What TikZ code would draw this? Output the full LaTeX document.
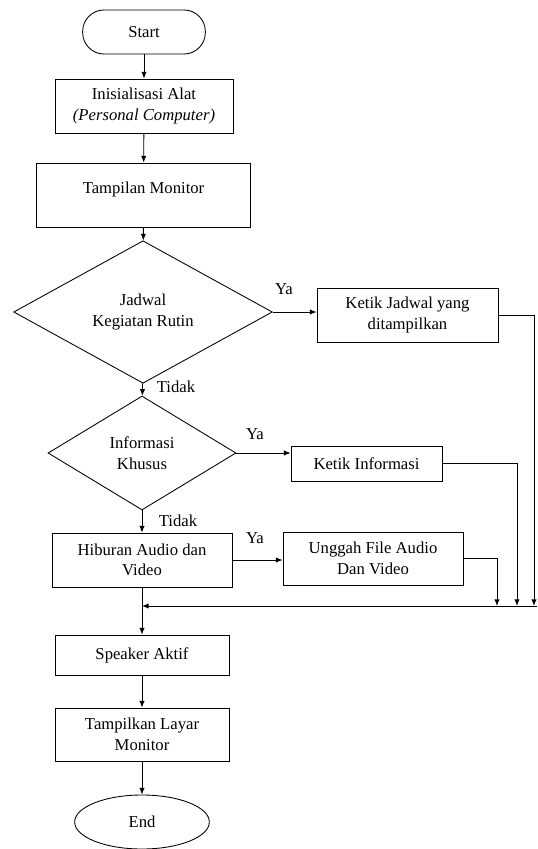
\documentclass[tikz,border=0pt]{standalone}
\usepackage{fontspec}
\setmainfont{Liberation Serif}
\usetikzlibrary{shapes.geometric,arrows.meta}

\begin{document}
\begin{tikzpicture}[x=0.75pt,y=-0.75pt,
  font=\fontsize{12.5}{15.5}\selectfont,
  line width=0.65pt,
  box/.style={draw,rectangle,align=center,inner sep=2pt},
  term/.style={draw,rounded corners=16pt,align=center},
  choice/.style={draw,diamond,align=center,inner sep=1pt},
  flow/.style={-{Latex[length=5pt,width=4pt]}}]

\useasboundingbox (0,0) rectangle (537,849); % Page size

% Main column
\node[term,minimum width=92pt,minimum height=33pt] (start) at (144,32) {Start};
\node[box,minimum width=133.5pt,minimum height=40.5pt] (init) at (144,106) {Inisialisasi Alat\\\textit{(Personal Computer)}};
\node[box,minimum width=160pt,minimum height=48pt,text depth=11pt] (monitor) at (143.5,195) {Tampilan Monitor};
\node[choice,minimum width=194pt,minimum height=85pt] (rutin) at (143,312) {Jadwal\\Kegiatan Rutin};
\node[choice,minimum width=141pt,minimum height=85.5pt] (khusus) at (142,453) {Informasi\\Khusus};
\node[box,minimum width=135pt,minimum height=40.5pt] (hiburan) at (142,560) {Hiburan Audio dan\\Video};
\node[box,minimum width=130.5pt,minimum height=30pt] (speaker) at (142,655) {Speaker Aktif};
\node[box,minimum width=130.5pt,minimum height=39.75pt] (layar) at (142,734.5) {Tampilkan Layar\\Monitor};
\node[draw,ellipse,minimum width=101pt,minimum height=40.5pt,inner sep=0pt] (end) at (142,822) {End};

% Right column
\node[box,minimum width=135.75pt,minimum height=40.5pt] (ketikjadwal) at (407.5,315) {Ketik Jadwal yang\\ditampilkan};
\node[box,minimum width=113.25pt,minimum height=26.25pt] (ketikinfo) at (366.5,463.5) {Ketik Informasi};
\node[box,minimum width=135pt,minimum height=39.75pt] (unggah) at (373,558.5) {Unggah File Audio\\Dan Video};

% Branch labels
\node (ya1) at (284,289) {Ya};
\node (ya2) at (255,434) {Ya};
\node (ya3) at (255,538) {Ya};
\node (tidak1) at (176,387) {Tidak};
\node (tidak2) at (178,521) {Tidak};

% Join points
\coordinate (joinR) at (536.5,606);
\coordinate (joinL) at (142,606);
\coordinate (dropA) at (534,606);
\coordinate (dropB) at (517,606);
\coordinate (dropC) at (497,606);

% Connectors
\draw[flow] (start) -- (init);
\draw[flow] (init) -- (monitor);
\draw[flow] (monitor) -- (rutin);
\draw[flow] (rutin) -- (khusus);
\draw[flow] (khusus) -- (hiburan);
\draw[flow] (rutin.east) -- (rutin.east -| ketikjadwal.west);
\draw[flow] (khusus.east) -- (khusus.east -| ketikinfo.west);
\draw[flow] (hiburan.east) -- (hiburan.east -| unggah.west);
\draw[flow] (ketikjadwal.east) -| (dropA);
\draw[flow] (ketikinfo.east) -| (dropB);
\draw[flow] (unggah.east) -| (dropC);
\draw[flow] (joinR) -- (joinL);
\draw[flow] (hiburan) -- (speaker);
\draw[flow] (speaker) -- (layar);
\draw[flow] (layar) -- (end);

\end{tikzpicture}
\end{document}
